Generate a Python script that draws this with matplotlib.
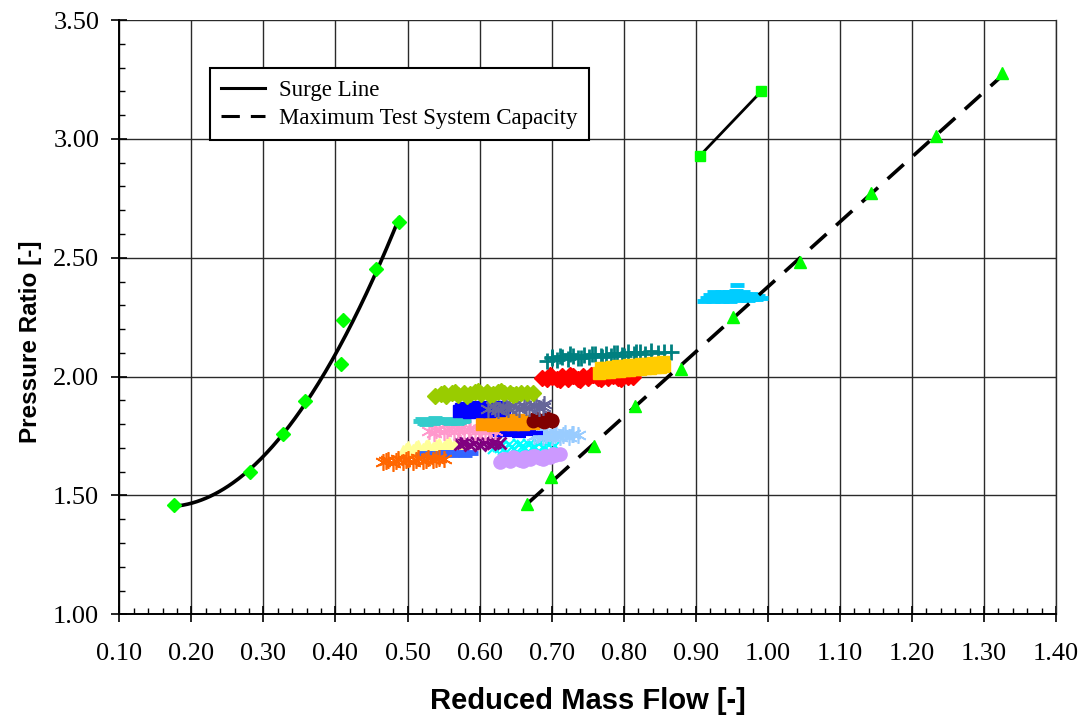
import numpy as np
import matplotlib
matplotlib.use("Agg")
import matplotlib.pyplot as plt
from matplotlib.ticker import MultipleLocator, FormatStrFormatter
from matplotlib import font_manager

# ---------------- data ----------------
surge_x = [0.176, 0.281, 0.327, 0.358, 0.407, 0.411, 0.456, 0.488]
surge_y = [1.459, 1.597, 1.757, 1.896, 2.052, 2.237, 2.451, 2.650]

square_x = [0.906, 0.991]
square_y = [2.930, 3.200]

cap_x = [0.666, 0.699, 0.759, 0.816, 0.880, 0.952, 1.044, 1.143, 1.233, 1.325]
cap_y = [1.463, 1.578, 1.708, 1.878, 2.034, 2.250, 2.484, 2.771, 3.010, 3.277]

# measured operating-point clouds
c17_x = [0.466, 0.473, 0.480, 0.487, 0.494, 0.501, 0.508, 0.515, 0.522, 0.529, 0.536, 0.543, 0.550,
         0.470, 0.484, 0.498, 0.512, 0.526, 0.540]
c17_y = [1.642, 1.650, 1.638, 1.652, 1.640, 1.655, 1.642, 1.656, 1.645, 1.658, 1.648, 1.659, 1.654,
         1.646, 1.645, 1.648, 1.650, 1.651, 1.653]

c16_x = [0.520, 0.527, 0.534, 0.541, 0.548, 0.555, 0.562, 0.569, 0.576, 0.583, 0.588,
         0.524, 0.538, 0.552, 0.566, 0.580]
c16_y = [1.670, 1.676, 1.668, 1.679, 1.670, 1.681, 1.672, 1.683, 1.676, 1.682, 1.679,
         1.678, 1.672, 1.684, 1.676, 1.672]

c14_x = [0.494, 0.501, 0.508, 0.515, 0.522, 0.529, 0.536, 0.543, 0.550, 0.557, 0.564, 0.571,
         0.498, 0.512, 0.526, 0.540, 0.554, 0.568]
c14_y = [1.688, 1.702, 1.692, 1.708, 1.697, 1.713, 1.701, 1.718, 1.705, 1.722, 1.709, 1.724,
         1.696, 1.702, 1.708, 1.712, 1.717, 1.716]

c18_x = [0.628, 0.635, 0.642, 0.649, 0.656, 0.663, 0.670, 0.677, 0.684, 0.691, 0.698, 0.705, 0.712,
         0.632, 0.646, 0.660, 0.674, 0.688, 0.702]
c18_y = [1.640, 1.652, 1.645, 1.657, 1.648, 1.660, 1.652, 1.665, 1.656, 1.668, 1.661, 1.672, 1.676,
         1.654, 1.660, 1.645, 1.668, 1.652, 1.673]

c15_x = [0.620, 0.627, 0.634, 0.641, 0.648, 0.655, 0.662, 0.669, 0.676, 0.683, 0.690, 0.697, 0.704,
         0.630, 0.645, 0.660, 0.675, 0.690]
c15_y = [1.698, 1.708, 1.694, 1.712, 1.697, 1.714, 1.699, 1.714, 1.702, 1.715, 1.704, 1.714, 1.708,
         1.704, 1.705, 1.707, 1.708, 1.709]

c13_x = [0.573, 0.580, 0.587, 0.594, 0.601, 0.608, 0.615, 0.622, 0.629,
         0.577, 0.591, 0.605, 0.619]
c13_y = [1.715, 1.725, 1.713, 1.727, 1.714, 1.728, 1.716, 1.726, 1.720,
         1.720, 1.721, 1.721, 1.722]

c12_x = [0.676, 0.682, 0.688, 0.694, 0.700, 0.706, 0.712, 0.718, 0.724, 0.730, 0.736,
         0.680, 0.692, 0.704, 0.716, 0.728]
c12_y = [1.750, 1.760, 1.745, 1.762, 1.746, 1.763, 1.747, 1.762, 1.748, 1.760, 1.754,
         1.755, 1.754, 1.756, 1.755, 1.757]

c11_x = [0.622, 0.629, 0.636, 0.643, 0.650, 0.657, 0.664, 0.671, 0.678,
         0.626, 0.640, 0.654, 0.668]
c11_y = [1.762, 1.770, 1.756, 1.768, 1.758, 1.766, 1.760, 1.764, 1.762,
         1.754, 1.773, 1.752, 1.770]

c10_x = [0.530, 0.537, 0.544, 0.551, 0.558, 0.565, 0.572, 0.579, 0.586, 0.593, 0.600, 0.607, 0.614, 0.621,
         0.540, 0.555, 0.570, 0.585, 0.600, 0.615]
c10_y = [1.772, 1.764, 1.780, 1.766, 1.782, 1.768, 1.784, 1.770, 1.783, 1.768, 1.780, 1.766, 1.776, 1.770,
         1.776, 1.774, 1.775, 1.777, 1.774, 1.778]

c9_x = [0.517, 0.523, 0.529, 0.535, 0.541, 0.547, 0.553, 0.559, 0.565, 0.571, 0.577,
        0.520, 0.532, 0.544, 0.556, 0.568, 0.578,
        0.526, 0.538, 0.550, 0.562, 0.574]
c9_y = [1.812, 1.806, 1.818, 1.804, 1.820, 1.808, 1.819, 1.805, 1.817, 1.808, 1.812,
        1.822, 1.814, 1.810, 1.821, 1.803, 1.818,
        1.800, 1.824, 1.813, 1.809, 1.815]

c8_x = [0.604, 0.611, 0.618, 0.625, 0.632, 0.639, 0.646, 0.653, 0.660, 0.667, 0.674,
        0.608, 0.622, 0.636, 0.650, 0.664]
c8_y = [1.800, 1.817, 1.798, 1.818, 1.799, 1.818, 1.800, 1.816, 1.800, 1.812, 1.803,
        1.809, 1.808, 1.810, 1.809, 1.807]

c7_x = [0.674, 0.680, 0.687, 0.694, 0.700, 0.677, 0.690, 0.701]
c7_y = [1.812, 1.822, 1.814, 1.824, 1.818, 1.826, 1.810, 1.813]

c5_x = [0.571, 0.578, 0.585, 0.592, 0.599, 0.606, 0.613, 0.620, 0.627, 0.634,
        0.574, 0.588, 0.602, 0.616, 0.630]
c5_y = [1.855, 1.870, 1.853, 1.872, 1.855, 1.873, 1.856, 1.873, 1.858, 1.872,
        1.864, 1.862, 1.866, 1.864, 1.866]

c6_x = [0.612, 0.619, 0.626, 0.633, 0.640, 0.647, 0.654, 0.661, 0.668, 0.675, 0.682, 0.690,
        0.622, 0.636, 0.650, 0.664, 0.678, 0.688]
c6_y = [1.862, 1.875, 1.860, 1.878, 1.862, 1.880, 1.864, 1.881, 1.866, 1.882, 1.868, 1.884,
        1.870, 1.871, 1.873, 1.874, 1.876, 1.872]

c4_x = [0.538, 0.546, 0.554, 0.562, 0.570, 0.578, 0.586, 0.594, 0.602, 0.610, 0.618, 0.626,
        0.634, 0.642, 0.650, 0.658, 0.666, 0.674,
        0.550, 0.566, 0.582, 0.598, 0.614, 0.630, 0.646]
c4_y = [1.918, 1.925, 1.920, 1.930, 1.923, 1.932, 1.925, 1.934, 1.927, 1.935, 1.928, 1.934,
        1.929, 1.933, 1.928, 1.932, 1.929, 1.930,
        1.930, 1.936, 1.919, 1.938, 1.922, 1.939, 1.924]

c3_x = [0.687, 0.694, 0.701, 0.708, 0.715, 0.722, 0.729, 0.736, 0.743, 0.750, 0.757, 0.764, 0.771,
        0.778, 0.785, 0.792, 0.799, 0.806, 0.813,
        0.698, 0.712, 0.726, 0.740, 0.754, 0.768, 0.782, 0.796]
c3_y = [1.995, 1.990, 2.000, 1.988, 2.002, 1.991, 2.004, 1.990, 2.003, 1.993, 2.005, 1.992, 2.004,
        1.994, 2.003, 1.995, 2.001, 1.997, 1.999,
        2.006, 1.985, 2.007, 1.987, 2.008, 1.988, 2.006, 1.990]

c1_x = [0.693, 0.700, 0.708, 0.715, 0.722, 0.730, 0.737, 0.745, 0.752, 0.760, 0.768, 0.775, 0.783,
        0.790, 0.798, 0.806, 0.814, 0.822, 0.830, 0.838, 0.847, 0.856, 0.866,
        0.700, 0.712, 0.726, 0.741, 0.756, 0.770, 0.786, 0.801, 0.817]
c1_y = [2.065, 2.078, 2.070, 2.082, 2.074, 2.086, 2.077, 2.090, 2.081, 2.093, 2.085, 2.096, 2.088,
        2.099, 2.091, 2.102, 2.094, 2.105, 2.097, 2.106, 2.100, 2.104, 2.103,
        2.082, 2.088, 2.093, 2.079, 2.096, 2.083, 2.099, 2.086, 2.104]

c2_x = [0.766, 0.773, 0.780, 0.787, 0.794, 0.801, 0.808, 0.815, 0.822, 0.829, 0.836, 0.843, 0.850, 0.856,
        0.768, 0.776, 0.784, 0.792, 0.800, 0.808, 0.816, 0.824, 0.832, 0.840, 0.848, 0.855]
c2_y = [2.016, 2.019, 2.020, 2.023, 2.025, 2.027, 2.029, 2.031, 2.034, 2.035, 2.038, 2.040, 2.042, 2.044,
        2.036, 2.038, 2.041, 2.043, 2.045, 2.047, 2.050, 2.052, 2.054, 2.056, 2.058, 2.060]

c19_x = [0.912, 0.918, 0.924, 0.930, 0.936, 0.942, 0.948, 0.954, 0.960, 0.966, 0.972, 0.978, 0.984, 0.990,
         0.915, 0.922, 0.930, 0.938, 0.946, 0.954, 0.962, 0.970, 0.978, 0.986,
         0.920, 0.928, 0.936, 0.944, 0.952, 0.960, 0.968, 0.976,
         0.926, 0.936, 0.946, 0.956, 0.966,
         0.957]
c19_y = [2.318, 2.322, 2.316, 2.324, 2.318, 2.326, 2.320, 2.326, 2.322, 2.327, 2.324, 2.328, 2.326, 2.330,
         2.330, 2.334, 2.332, 2.336, 2.333, 2.338, 2.335, 2.338, 2.336, 2.340,
         2.343, 2.346, 2.344, 2.348, 2.345, 2.349, 2.346, 2.348,
         2.355, 2.357, 2.356, 2.358, 2.356,
         2.384]

x_ticks = [0.10, 0.20, 0.30, 0.40, 0.50, 0.60, 0.70, 0.80, 0.90, 1.00, 1.10, 1.20, 1.30, 1.40]
y_ticks = [1.00, 1.50, 2.00, 2.50, 3.00, 3.50]

# (x, y, colour, marker, size, edge width) in drawing order
clouds = [
    (c14_x, c14_y, "#FFFF99", "^", 9, 1.0),
    (c16_x, c16_y, "#3366FF", "_", 10, 3.5),
    (c17_x, c17_y, "#FF6600", (6, 2, 0), 12, 1.2),
    (c15_x, c15_y, "#00FFFF", "x", 8, 1.5),
    (c18_x, c18_y, "#CC99FF", "o", 9.5, 1.0),
    (c13_x, c13_y, "#800080", "x", 8, 2.0),
    (c12_x, c12_y, "#99CCFF", (6, 2, 0), 12, 1.2),
    (c11_x, c11_y, "#0000FF", "_", 10, 3.0),
    (c10_x, c10_y, "#FF99CC", (6, 2, 0), 12, 1.2),
    (c9_x, c9_y, "#33CCCC", "_", 10, 3.5),
    (c8_x, c8_y, "#FF9900", "s", 8, 1.0),
    (c7_x, c7_y, "#800000", "o", 9, 1.0),
    (c5_x, c5_y, "#0000FF", "s", 8, 1.0),
    (c6_x, c6_y, "#666699", (6, 2, 0), 12, 1.2),
    (c4_x, c4_y, "#99CC00", "D", 8, 1.0),
    (c3_x, c3_y, "#FF0000", "D", 8, 1.0),
    (c1_x, c1_y, "#008080", "+", 11, 2.0),
    (c2_x, c2_y, "#FFCC00", "s", 8, 1.0),
    (c19_x, c19_y, "#00CCFF", "_", 10, 3.5),
]

# ---------------- figure ----------------
fig = plt.figure(figsize=(10.8, 7.17), dpi=100)
ax = fig.add_axes([0.1105, 0.1432, 0.8673, 0.8289])

serif = ["Liberation Serif", "DejaVu Serif"]
sans = ["Liberation Sans", "DejaVu Sans"]
installed = {f.name for f in font_manager.fontManager.ttflist}
narrow_ok = "Liberation Sans Narrow" in installed

ax.set_xlim(0.10, 1.40)
ax.set_ylim(1.00, 3.50)
ax.set_xticks(x_ticks)
ax.set_yticks(y_ticks)
ax.xaxis.set_minor_locator(MultipleLocator(0.02))
ax.yaxis.set_minor_locator(MultipleLocator(0.1))
ax.xaxis.set_major_formatter(FormatStrFormatter("%.2f"))
ax.yaxis.set_major_formatter(FormatStrFormatter("%.2f"))

ax.grid(True, which="major", color="#2a2a2a", linewidth=1.0, zorder=0)
ax.set_axisbelow(True)

ax.tick_params(which="major", direction="inout", length=12, width=1.2, color="black")
ax.tick_params(which="minor", direction="in", length=4.5, width=1.0, color="black")
ax.tick_params(axis="x", which="major", pad=14.5)
ax.tick_params(axis="y", which="major", pad=8.5)
for lab in ax.get_xticklabels() + ax.get_yticklabels():
    lab.set_fontfamily(serif)
    lab.set_fontsize(19)

for s in ["left", "bottom"]:
    ax.spines[s].set_linewidth(1.4)
    ax.spines[s].set_color("black")
ax.spines["top"].set_visible(False)
ax.spines["right"].set_color("#2a2a2a")
ax.spines["right"].set_linewidth(1.0)

# clouds
for cx, cy, col, mk, ms, mew in clouds:
    ax.plot(cx, cy, linestyle="none", marker=mk, markersize=ms, color=col,
            markeredgecolor=col, markerfacecolor=col, markeredgewidth=mew, zorder=3)

# surge line (quadratic trendline through surge points)
coef = np.polyfit(surge_x, surge_y, 2)
sx = np.linspace(min(surge_x), max(surge_x), 200)
ax.plot(sx, np.polyval(coef, sx), color="black", linewidth=2.6, zorder=4, label="Surge Line")
ax.plot(surge_x, surge_y, linestyle="none", marker="D", markersize=7, color="#00FF00", zorder=5)

# square segment
ax.plot(square_x, square_y, color="black", linewidth=2.0, zorder=4)
ax.plot(square_x, square_y, linestyle="none", marker="s", markersize=7.5, color="#00FF00", zorder=5)

# maximum test system capacity (linear trendline)
lc = np.polyfit(cap_x, cap_y, 1)
lx = np.array([min(cap_x), max(cap_x)])
ax.plot(lx, np.polyval(lc, lx), color="black", linewidth=2.6, dashes=(6.0, 3.6), zorder=4,
        label="Maximum Test System Capacity")
ax.plot(cap_x, cap_y, linestyle="none", marker="^", markersize=8, color="#00FF00", zorder=5)

leg = ax.legend(loc="upper left", bbox_to_anchor=(0.0968, 0.919), borderaxespad=0,
                prop={"family": serif, "size": 16.5}, frameon=True, fancybox=False,
                edgecolor="black", framealpha=1, handlelength=1.9, handletextpad=0.6,
                borderpad=0.5, labelspacing=0.3)
leg.get_frame().set_linewidth(1.5)
leg.set_zorder(10)
for h in leg.get_lines():
    h.set_linewidth(2.2)

ax.set_xlabel("Reduced Mass Flow [-]", fontfamily=sans, fontweight="bold", fontsize=21, labelpad=16)
if narrow_ok:
    ax.set_ylabel("Pressure Ratio [-]", fontfamily=["Liberation Sans Narrow"] + sans,
                  fontweight="bold", fontsize=21)
else:
    ax.set_ylabel("Pressure Ratio [-]", fontfamily=sans, fontweight="bold", fontsize=17.5)
ax.yaxis.set_label_coords(-0.0825, 0.458)

fig.savefig("out.png", dpi=100)
